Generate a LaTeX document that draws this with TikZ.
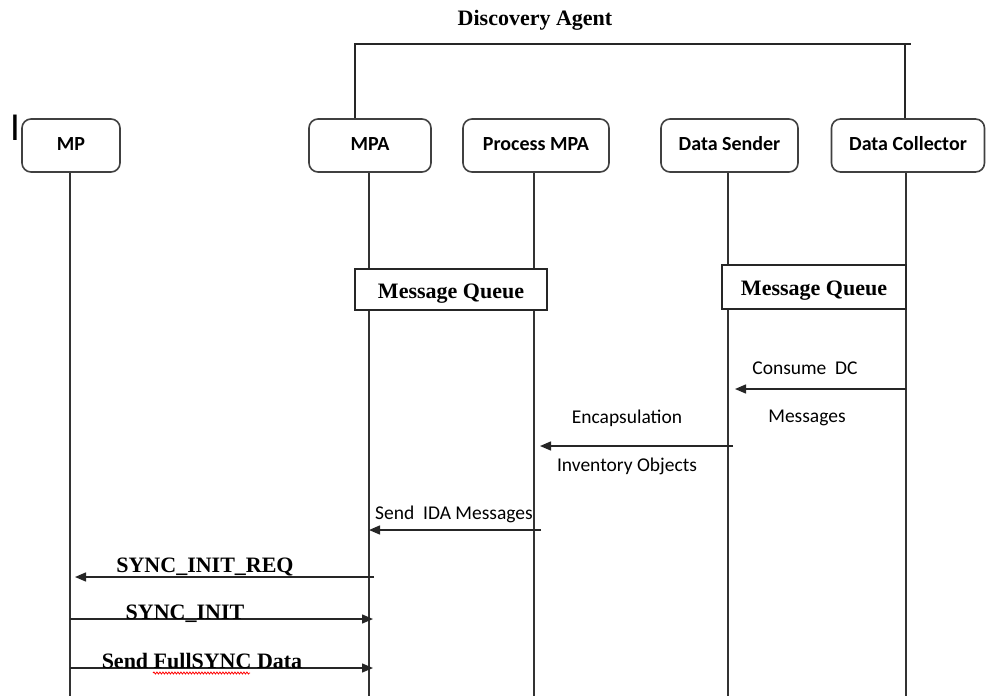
\documentclass[tikz,border=0pt]{standalone}
\usepackage{fontspec}
\setmainfont{Liberation Serif}
\newfontfamily\calibri{Carlito}
\newfontfamily\arialfont{Liberation Sans}
\usetikzlibrary{arrows.meta,decorations.pathmorphing}

\tikzset{
  actor/.style={draw=black!75, line width=1.6pt, rounded corners=9pt, fill=white,
    minimum height=53pt, inner sep=0pt, text height=13.5pt, text depth=4pt,
    font=\calibri\bfseries\fontsize{20}{23}\selectfont},
  queue/.style={draw=black!85, line width=1.5pt, fill=white, inner sep=0pt,
    text height=17.5pt, text depth=0pt,
    font=\bfseries\fontsize{22}{26}\selectfont},
  life/.style={draw=black!80, line width=1.4pt},
  bracket/.style={draw=black!85, line width=1.4pt},
  msg/.style={draw=black!85, line width=1.4pt, -{Triangle[length=11pt,width=9pt]}},
  lbl/.style={anchor=base, inner sep=0pt, font=\calibri\fontsize{19.5}{22}\selectfont},
  slbl/.style={anchor=base, inner sep=0pt, font=\bfseries\fontsize{22}{26}\selectfont},
}

\begin{document}
\begin{tikzpicture}[x=1pt, y=-1pt]
  \useasboundingbox (0,0) rectangle (987,696);

  % title and the bracket grouping the agent's components
  \node[slbl] (title) at (535,25) {Discovery Agent};
  \coordinate (brL) at (355,44);
  \coordinate (brR) at (911,44);
  \coordinate (brD) at (905,44);

  % participants
  \node[actor, minimum width=98pt]  (mp)   at (71,145.5)  {MP};
  \node[actor, minimum width=122pt] (mpa)  at (370,145.5) {MPA};
  \node[actor, minimum width=146pt] (pmpa) at (536,145.5) {Process MPA};
  \node[actor, minimum width=137pt] (ds)   at (729.5,145.5) {Data Sender};
  \node[actor, minimum width=153pt] (dc)   at (908,145.5) {Data Collector};

  \node[anchor=base, inner sep=0pt, font=\arialfont\fontsize{37}{40}\selectfont] (cursor) at (15,140) {I};

  \draw[bracket] (mpa.north -| brL) -- (brL) -- (brR);
  \draw[bracket] (dc.north -| brD) -- (brD);

  % lifelines
  \coordinate (mpEnd)   at (70,696);
  \coordinate (mpaEnd)  at (369,696);
  \coordinate (pmpaEnd) at (534,696);
  \coordinate (dsEnd)   at (728,696);
  \coordinate (dcEnd)   at (906,696);
  \draw[life] (mp.south -| mpEnd) -- (mpEnd);
  \draw[life] (mpa.south -| mpaEnd) -- (mpaEnd);
  \draw[life] (pmpa.south -| pmpaEnd) -- (pmpaEnd);
  \draw[life] (ds.south -| dsEnd) -- (dsEnd);
  \draw[life] (dc.south -| dcEnd) -- (dcEnd);

  % message queues
  \node[queue, minimum width=192pt, minimum height=41pt] (mq1) at (451,289.5) {Message Queue};
  \node[queue, minimum width=184pt, minimum height=44pt] (mq2) at (814,287) {Message Queue};

  % message end points
  \coordinate (m1a) at (906,389); \coordinate (m1b) at (735,389);
  \coordinate (m2a) at (733,446); \coordinate (m2b) at (540,446);
  \coordinate (m3a) at (541,530); \coordinate (m3b) at (369,530);
  \coordinate (m4a) at (374,577); \coordinate (m4b) at (75,577);
  \coordinate (m5a) at (70,619);  \coordinate (m5b) at (373,619);
  \coordinate (m6a) at (70,668);  \coordinate (m6b) at (373,668);

  \draw[msg] (m1a) -- (m1b);
  \draw[msg] (m2a) -- (m2b);
  \draw[msg] (m3a) -- (m3b);
  \draw[msg] (m4a) -- (m4b);
  \draw[msg] (m5a) -- (m5b);
  \draw[msg] (m6a) -- (m6b);

  % message labels
  \node[lbl] (l1a) at (805,374) {Consume~~DC};
  \node[lbl] (l1b) at (807,422) {Messages};
  \node[lbl] (l2a) at (627,423) {Encapsulation};
  \node[lbl] (l2b) at (627,471) {Inventory Objects};
  \node[lbl] (l3)  at (454,519) {Send~~IDA Messages};
  \node[slbl] (l4) at (205,572) {SYNC\_INIT\_REQ};
  \node[slbl] (l5) at (185,619) {SYNC\_INIT};
  \node[slbl] (l6) at (202,668) {Send FullSYNC Data};

  % spelling mark under the word FullSYNC
  \draw[red, line width=0.8pt, decorate, decoration={snake, amplitude=1pt, segment length=3pt}]
    (153,673) -- (250,673);
\end{tikzpicture}
\end{document}
